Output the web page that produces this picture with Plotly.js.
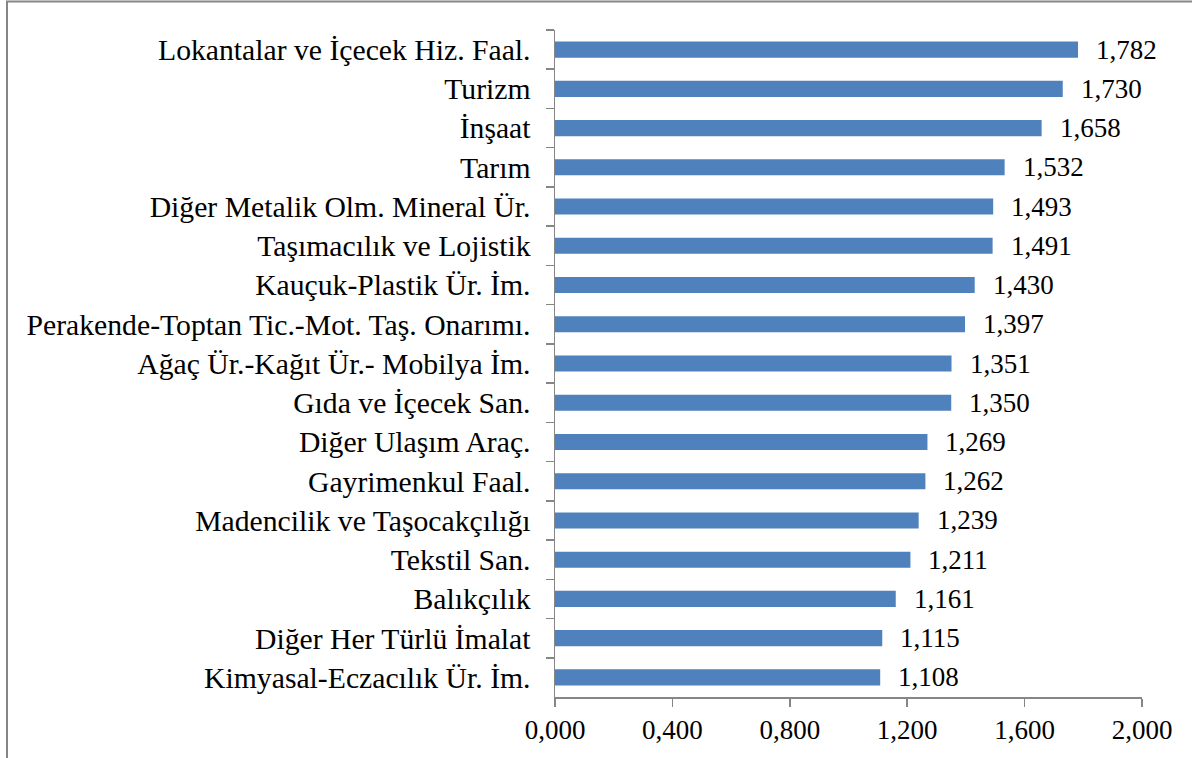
<!DOCTYPE html>
<html>
<head>
<meta charset="utf-8">
<script src="https://cdn.plot.ly/plotly-3.0.1.min.js"></script>
<style>html,body{margin:0;padding:0;background:#fff;}#chart{width:1192px;height:758px;}</style>
</head>
<body>
<div id="chart"></div>
<script>
const categories = [
  "Lokantalar ve İçecek Hiz. Faal.",
  "Turizm",
  "İnşaat",
  "Tarım",
  "Diğer Metalik Olm. Mineral Ür.",
  "Taşımacılık ve Lojistik",
  "Kauçuk-Plastik Ür. İm.",
  "Perakende-Toptan Tic.-Mot. Taş. Onarımı.",
  "Ağaç Ür.-Kağıt Ür.- Mobilya İm.",
  "Gıda ve İçecek San.",
  "Diğer Ulaşım Araç.",
  "Gayrimenkul Faal.",
  "Madencilik ve Taşocakçılığı",
  "Tekstil San.",
  "Balıkçılık",
  "Diğer Her Türlü İmalat",
  "Kimyasal-Eczacılık Ür. İm."
];
const values = [1.782, 1.730, 1.658, 1.532, 1.493, 1.491, 1.430, 1.397, 1.351, 1.350, 1.269, 1.262, 1.239, 1.211, 1.161, 1.115, 1.108];
const tickValues = [0, 0.4, 0.8, 1.2, 1.6, 2.0];

const FONT = "Liberation Serif";
const AXIS = "#868686";

const trace = {
  type: "bar",
  orientation: "h",
  x: values,
  y: categories,
  marker: {color: "#4F81BD", line: {width: 0}},
  hoverinfo: "none"
};

const annotations = values.map((v, i) => ({
  x: v, y: categories[i], xref: "x", yref: "y",
  text: v.toFixed(3).replace(".", ","),
  showarrow: false, xanchor: "left", yanchor: "middle",
  xshift: 16,
  font: {family: FONT, size: 27, color: "#000"}
}));

const layout = {
  width: 1192, height: 758,
  margin: {l: 555, r: 50, t: 30, b: 61},
  paper_bgcolor: "#fff", plot_bgcolor: "#fff",
  separators: ",.",
  showlegend: false,
  bargap: 0.59,
  font: {family: FONT, size: 27, color: "#000"},
  xaxis: {
    range: [0, 2], tickvals: tickValues, tickformat: ".3f",
    showgrid: false, zeroline: false,
    showline: true, linecolor: AXIS, linewidth: 1.5,
    ticks: "outside", ticklen: 8, tickcolor: AXIS, tickwidth: 1.5,
    tickfont: {family: FONT, size: 27, color: "#000"}
  },
  yaxis: {
    autorange: "reversed", type: "category",
    showgrid: false, zeroline: false,
    showline: true, linecolor: AXIS, linewidth: 1.5,
    ticks: "outside", tickson: "boundaries", ticklen: 8, tickcolor: AXIS, tickwidth: 1.5,
    ticklabelstandoff: 17,
    tickfont: {family: FONT, size: 29.7, color: "#000"}
  },
  annotations: annotations,
  shapes: [{
    type: "rect", xref: "paper", yref: "paper",
    x0: (7 - 555) / 587, x1: 1.3, y0: -0.3, y1: (697 - 1.5) / 667,
    line: {color: AXIS, width: 2}, fillcolor: "rgba(0,0,0,0)", layer: "below"
  }]
};

Plotly.newPlot("chart", [trace], layout, {displayModeBar: false, staticPlot: true});
</script>
</body>
</html>
